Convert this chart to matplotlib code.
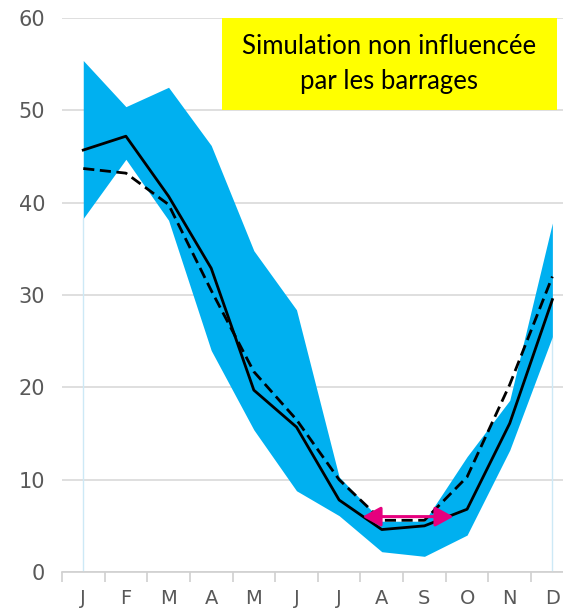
import matplotlib.pyplot as plt
import numpy as np
from matplotlib.patches import Rectangle

# months and series
months = ["J", "F", "M", "A", "M", "J", "J", "A", "S", "O", "N", "D"]
band_low = [38.3, 44.7, 38.1, 24.0, 15.4, 8.8, 6.1, 2.2, 1.7, 4.0, 13.2, 25.5]
band_high = [55.4, 50.4, 52.5, 46.2, 34.8, 28.4, 10.3, 5.5, 5.5, 12.5, 18.6, 37.8]
solid = [45.7, 47.2, 40.7, 32.9, 19.7, 15.7, 7.8, 4.6, 5.0, 6.8, 16.1, 29.5]
dashed = [43.7, 43.2, 39.8, 30.5, 21.7, 16.5, 10.0, 5.6, 5.6, 10.3, 20.3, 32.0]
arrow_y = 6.0
arrow_x = [6.55, 8.68]

x = np.arange(len(months))

fig = plt.figure(figsize=(5.63, 6.11), dpi=100)
ax = fig.add_axes([0.110, 0.0638, 0.909, 0.9067])

ax.fill_between(x, band_low, band_high, color="#00B0F0", lw=0, zorder=2)
ax.vlines([x[0], x[-1]], 0, [band_low[0], band_low[-1]], color="#CDE9F6", lw=1, zorder=1)
ax.plot(x, solid, color="black", lw=2.0, zorder=4)
ax.plot(x, dashed, color="black", lw=2.0, ls=(0, (4, 2)), zorder=4)

ax.annotate("", xy=(arrow_x[0], arrow_y), xytext=(arrow_x[1], arrow_y),
            arrowprops=dict(arrowstyle="<|-|>,head_length=1.1,head_width=0.6",
                            color="#E6007E", lw=2.2, shrinkA=0, shrinkB=0),
            zorder=5)

ax.set_xlim(-0.5, 11.5)
ax.set_ylim(0, 60)
ax.set_yticks(range(0, 61, 10))
ax.grid(axis="y", color="#D9D9D9", lw=1.2, zorder=0)
ax.set_axisbelow(True)

for s in ["top", "right", "left"]:
    ax.spines[s].set_visible(False)
ax.spines["bottom"].set_color("#D0D0D0")
ax.spines["bottom"].set_linewidth(1.2)

ax.set_xticks(np.arange(-0.5, 12, 1))
ax.set_xticklabels([])
ax.tick_params(axis="x", which="major", length=7, color="#D0D0D0", width=1.2)
ax.set_xticks(x, minor=True)
ax.set_xticklabels(months, minor=True)
ax.tick_params(axis="x", which="minor", length=0, pad=12, labelsize=14, labelcolor="#595959")
ax.tick_params(axis="y", length=0, pad=12, labelsize=15, labelcolor="#595959")

# yellow title box
fig.patches.append(Rectangle((222 / 563, 1 - 110 / 611), 335 / 563, 92 / 611,
                             transform=fig.transFigure, fc="#FFFF00", ec="none", zorder=6))
fig.text(389 / 563, 1 - 64 / 611, "Simulation non influencée\npar les barrages",
         ha="center", va="center", fontsize=18.5, family="Lato", linespacing=1.45, zorder=7)

fig.savefig("out.png", dpi=100)
